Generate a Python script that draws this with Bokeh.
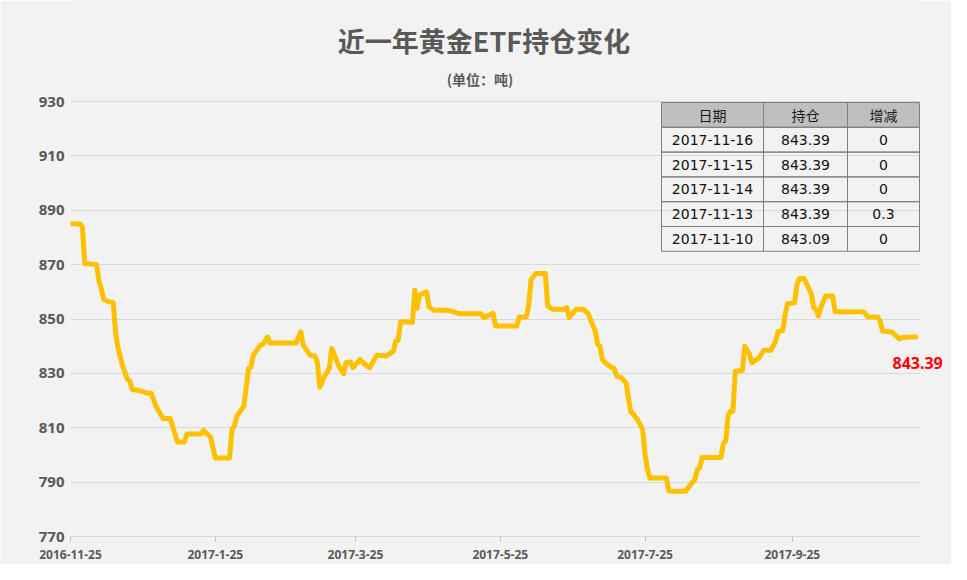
import pandas as pd

from bokeh.core.properties import value
from bokeh.embed import file_html
from bokeh.models import ColumnDataSource, FixedTicker, Label, LinearAxis, Range1d
from bokeh.plotting import figure
from bokeh.resources import INLINE

# ETF holdings (tonnes) at its turning points
dates = ["2016-11-25", "2016-11-29", "2016-11-30", "2016-12-01", "2016-12-06", "2016-12-07",
         "2016-12-08", "2016-12-09", "2016-12-11", "2016-12-13", "2016-12-14", "2016-12-15",
         "2016-12-17", "2016-12-19", "2016-12-20", "2016-12-21", "2016-12-24", "2016-12-27",
         "2016-12-29", "2016-12-31", "2017-01-03", "2017-01-06", "2017-01-09", "2017-01-12",
         "2017-01-13", "2017-01-19", "2017-01-20", "2017-01-23", "2017-01-25", "2017-01-31",
         "2017-02-01", "2017-02-02", "2017-02-03", "2017-02-06", "2017-02-08", "2017-02-09",
         "2017-02-10", "2017-02-13", "2017-02-14", "2017-02-16", "2017-02-17", "2017-02-28",
         "2017-03-02", "2017-03-03", "2017-03-06", "2017-03-08", "2017-03-09", "2017-03-10",
         "2017-03-12", "2017-03-14", "2017-03-15", "2017-03-16", "2017-03-18", "2017-03-20",
         "2017-03-21", "2017-03-23", "2017-03-24", "2017-03-27", "2017-03-29", "2017-03-31",
         "2017-04-03", "2017-04-07", "2017-04-10", "2017-04-11", "2017-04-12", "2017-04-13",
         "2017-04-18", "2017-04-19", "2017-04-20", "2017-04-21", "2017-04-24", "2017-04-25",
         "2017-04-27", "2017-05-03", "2017-05-05", "2017-05-08", "2017-05-17", "2017-05-18",
         "2017-05-22", "2017-05-23", "2017-06-01", "2017-06-02", "2017-06-05", "2017-06-06",
         "2017-06-07", "2017-06-09", "2017-06-13", "2017-06-14", "2017-06-16", "2017-06-21",
         "2017-06-22", "2017-06-23", "2017-06-26", "2017-06-29", "2017-07-01", "2017-07-04",
         "2017-07-05", "2017-07-06", "2017-07-07", "2017-07-09", "2017-07-11", "2017-07-12",
         "2017-07-13", "2017-07-15", "2017-07-17", "2017-07-18", "2017-07-19", "2017-07-20",
         "2017-07-22", "2017-07-24", "2017-07-25", "2017-07-26", "2017-07-27", "2017-08-03",
         "2017-08-04", "2017-08-06", "2017-08-11", "2017-08-14", "2017-08-15", "2017-08-16",
         "2017-08-17", "2017-08-18", "2017-08-26", "2017-08-27", "2017-08-28", "2017-08-29",
         "2017-08-30", "2017-08-31", "2017-09-01", "2017-09-04", "2017-09-05", "2017-09-07",
         "2017-09-08", "2017-09-11", "2017-09-13", "2017-09-16", "2017-09-18", "2017-09-19",
         "2017-09-21", "2017-09-22", "2017-09-23", "2017-09-26", "2017-09-27", "2017-09-28",
         "2017-09-30", "2017-10-03", "2017-10-04", "2017-10-05", "2017-10-06", "2017-10-07",
         "2017-10-09", "2017-10-12", "2017-10-13", "2017-10-25", "2017-10-27", "2017-10-31",
         "2017-11-01", "2017-11-02", "2017-11-06", "2017-11-09", "2017-11-10", "2017-11-13",
         "2017-11-16"]
holdings = [885.0, 885.0, 883.9, 870.4, 870.0, 863.8,
            861.0, 857.3, 856.4, 856.0, 845.0, 839.4,
            832.6, 827.8, 827.1, 824.1, 823.7, 822.8,
            822.7, 817.9, 813.4, 813.4, 804.8, 804.8,
            807.7, 807.7, 809.0, 806.5, 798.9, 798.9,
            809.3, 810.6, 814.2, 817.9, 831.8, 832.3,
            836.7, 840.4, 840.7, 843.4, 841.2, 841.2,
            845.3, 840.4, 836.6, 836.4, 833.9, 824.9,
            829.0, 831.8, 839.2, 837.2, 832.7, 829.9,
            833.9, 834.2, 832.1, 835.1, 833.3, 832.1,
            836.7, 836.4, 838.2, 841.9, 842.1, 849.0,
            848.8, 860.6, 853.9, 858.8, 860.0, 854.4,
            853.2, 853.2, 852.7, 851.9, 851.9, 850.5,
            852.1, 847.4, 847.4, 850.7, 850.7, 855.2,
            864.6, 866.7, 866.7, 854.8, 853.6, 853.6,
            854.2, 850.5, 853.6, 853.6, 852.0, 845.6,
            840.7, 840.0, 835.1, 833.3, 832.1, 831.8,
            829.0, 828.4, 826.5, 821.0, 815.8, 815.1,
            812.7, 809.3, 800.1, 794.6, 791.5, 791.5,
            786.8, 786.6, 786.6, 790.0, 790.9, 794.6,
            795.2, 799.1, 799.1, 804.4, 805.0, 814.6,
            816.1, 816.1, 830.8, 831.1, 840.0, 837.0,
            833.9, 835.7, 838.5, 838.5, 841.9, 845.3,
            845.8, 851.7, 855.6, 856.0, 862.8, 864.9,
            864.9, 859.3, 854.2, 853.6, 851.1, 854.2,
            858.5, 858.5, 852.7, 852.7, 850.7, 850.7,
            849.3, 845.6, 845.2, 842.7, 843.09, 843.39,
            843.39]

tick_labels = ["2016-11-25", "2017-1-25", "2017-3-25", "2017-5-25", "2017-7-25", "2017-9-25"]
y_ticks = [770, 790, 810, 830, 850, 870, 890, 910, 930]

table_header = ["日期", "持仓", "增减"]
table_dates = ["2017-11-16", "2017-11-15", "2017-11-14", "2017-11-13", "2017-11-10"]
table_holdings = ["843.39", "843.39", "843.39", "843.39", "843.09"]
table_changes = ["0", "0", "0", "0.3", "0"]

title_text = "近一年黄金ETF持仓变化"
subtitle_text = "(单位：吨)"

GREY = "#595959"

start = pd.Timestamp(dates[0])
days = [(pd.Timestamp(d) - start).days for d in dates]
tick_pos = [(pd.Timestamp(t) - start).days for t in tick_labels]

# layout (figure pixels); the frame reaches the top so titles can live inside it
W, H = 951, 564
L, R, B = 70, 31, 28
FW, FH = W - L - R, H - B
TOP_PX = 101                      # pixel row of the 930 gridline
y_lo, y_hi = y_ticks[0], y_ticks[-1]
ppu = (FH - TOP_PX) / (y_hi - y_lo)
y_end = y_hi + TOP_PX / ppu

p = figure(width=W, height=H, x_range=Range1d(0, 358), y_range=Range1d(y_lo, y_end),
           output_backend="svg", toolbar_location=None, title=None,
           min_border_left=L, min_border_right=R, min_border_top=0, min_border_bottom=B,
           background_fill_color="#f2f2f2", border_fill_color="#f2f2f2")
p.outline_line_color = None
# pixel ranges over the plot frame, y measured downwards, for the table and titles
p.extra_x_ranges = {"px": Range1d(0, FW)}
p.extra_y_ranges = {"px": Range1d(FH, 0)}

p.line(days, holdings, line_color="#ffc000", line_width=5,
       line_join="round", line_cap="round")

# axes
p.xaxis.ticker = FixedTicker(ticks=tick_pos)
p.xaxis.major_label_overrides = dict(zip(tick_pos, tick_labels))
p.xaxis.axis_line_color = "#d9d9d9"
p.xaxis.major_tick_line_color = "#bfbfbf"
p.xaxis.major_tick_in = 0
p.xaxis.major_tick_out = 5
p.xaxis.minor_tick_line_color = None
p.xaxis.major_label_standoff = 8
p.xaxis.major_label_text_font = "Noto Sans"
p.xaxis.major_label_text_font_size = "12px"
p.xaxis.major_label_text_font_style = "bold"
p.xaxis.major_label_text_color = GREY

p.yaxis.ticker = FixedTicker(ticks=y_ticks)
p.yaxis.axis_line_color = None
p.yaxis.major_tick_line_color = None
p.yaxis.minor_tick_line_color = None
p.yaxis.major_tick_in = 0
p.yaxis.major_tick_out = 0
p.yaxis.major_label_standoff = 6
p.yaxis.major_label_text_font = "Noto Sans"
p.yaxis.major_label_text_font_size = "15px"
p.yaxis.major_label_text_font_style = "bold"
p.yaxis.major_label_text_color = GREY

p.xgrid.grid_line_color = None
p.ygrid.grid_line_color = "#d9d9d9"
p.ygrid.grid_line_width = 1

# last value tag, as a right-hand axis label (side panels are not clipped)
tag_y = holdings[-1] - 26 / ppu
tag_axis = LinearAxis(ticker=FixedTicker(ticks=[tag_y]),
                      major_label_overrides={tag_y: f"{holdings[-1]:.2f}"},
                      axis_line_color=None, major_tick_line_color=None,
                      minor_tick_line_color=None, major_tick_in=0, major_tick_out=0,
                      major_label_standoff=-28, major_label_text_font="Noto Sans",
                      major_label_text_font_size="16px", major_label_text_font_style="bold",
                      major_label_text_color="#ff0000")
p.add_layout(tag_axis, "right")

# title and subtitle
p.add_layout(Label(x=W / 2 - L + 8, y=40, x_range_name="px", y_range_name="px",
                   text=title_text, text_align="center", text_baseline="middle",
                   text_font="Noto Sans CJK SC", text_font_size="27px",
                   text_font_style="bold", text_color=GREY))
p.add_layout(Label(x=W / 2 - L + 4, y=78, x_range_name="px", y_range_name="px",
                   text=subtitle_text, text_align="center", text_baseline="middle",
                   text_font="Noto Sans CJK SC", text_font_size="14px",
                   text_font_style="bold", text_color=GREY))

# table
col_edges = [591, 693, 777, 849]
tbl_top = 102
row_h = 24.8
n_rows = len(table_dates) + 1

cells = dict(left=[], right=[], top=[], bottom=[], xm=[], ym=[], txt=[])
columns = [table_dates, table_holdings, table_changes]
for r in range(1, n_rows):
    for c in range(3):
        cells["left"].append(col_edges[c])
        cells["right"].append(col_edges[c + 1])
        cells["top"].append(tbl_top + r * row_h)
        cells["bottom"].append(tbl_top + (r + 1) * row_h)
        cells["xm"].append((col_edges[c] + col_edges[c + 1]) / 2)
        cells["ym"].append(tbl_top + (r + 0.5) * row_h)
        cells["txt"].append(columns[c][r - 1])
head = dict(left=col_edges[:-1], right=col_edges[1:],
            top=[tbl_top] * 3, bottom=[tbl_top + row_h] * 3,
            xm=[(a + b) / 2 for a, b in zip(col_edges[:-1], col_edges[1:])],
            ym=[tbl_top + row_h / 2] * 3, txt=table_header)

cell_src = ColumnDataSource(cells)
head_src = ColumnDataSource(head)

p.quad(left="left", right="right", top="top", bottom="bottom", source=head_src,
       fill_color="#bfbfbf", line_color="#7f7f7f", line_width=1,
       x_range_name="px", y_range_name="px")
p.quad(left="left", right="right", top="top", bottom="bottom", source=cell_src,
       fill_alpha=0, line_color="#7f7f7f", line_width=1,
       x_range_name="px", y_range_name="px")
p.text(x="xm", y="ym", text="txt", source=head_src, text_align="center",
       text_baseline="middle", text_font=value("Noto Sans CJK SC"),
       text_font_size="14px", text_color="#1a1a1a",
       x_range_name="px", y_range_name="px")
p.text(x="xm", y="ym", text="txt", source=cell_src, text_align="center",
       text_baseline="middle", text_font=value("DejaVu Sans"),
       text_font_size="14px", text_color="#111111",
       x_range_name="px", y_range_name="px")

open("out.html", "w").write(file_html(p, INLINE))
